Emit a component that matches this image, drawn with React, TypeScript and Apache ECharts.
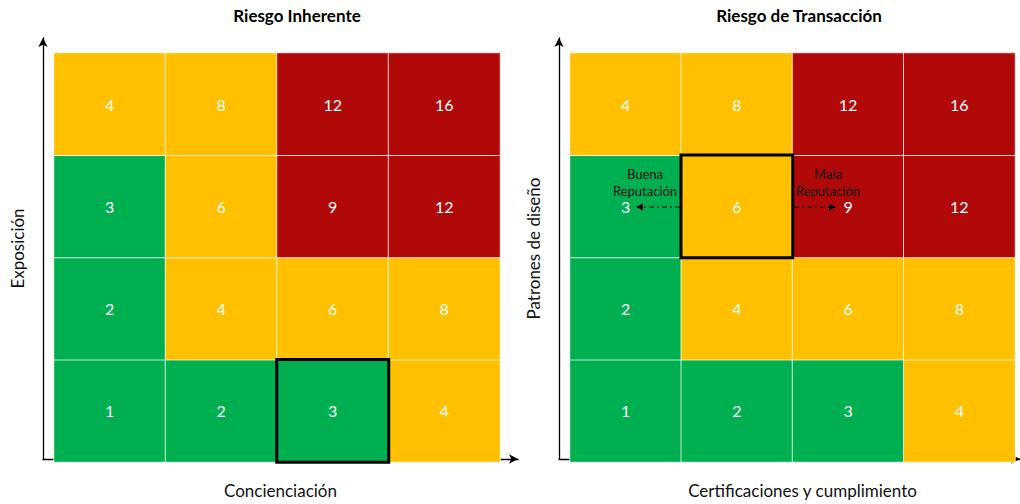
import React, { useEffect, useRef } from "react";
import * as echarts from "echarts";

// Category labels of the two 4x4 matrices (columns left→right, rows bottom→top)
const columnas = ["1", "2", "3", "4"];
const filas = ["1", "2", "3", "4"];

// Risk scores, one array per row from bottom to top
const inherenteValores = [
  [1, 2, 3, 4],
  [2, 4, 6, 8],
  [3, 6, 9, 12],
  [4, 8, 12, 16],
];
const transaccionValores = [
  [1, 2, 3, 4],
  [2, 4, 6, 8],
  [3, 6, 9, 12],
  [4, 8, 12, 16],
];

// Highlighted cell [column index, row index]
const inherenteMarcado = [2, 0];
const transaccionMarcado = [1, 2];

const titulos = ["Riesgo Inherente", "Riesgo de Transacción"];
const ejeX = ["Concienciación", "Certificaciones y cumplimiento"];
const ejeY = ["Exposición", "Patrones de diseño"];

const VERDE = "#00B050";
const AMARILLO = "#FFC000";
const ROJO = "#B10909";
const FUENTE = "Lato, 'Open Sans', sans-serif";

function celdas(valores: number[][], marcado: number[]) {
  const out: any[] = [];
  let destacada: any = null;
  valores.forEach((fila, r) => {
    fila.forEach((v, c) => {
      if (c === marcado[0] && r === marcado[1]) {
        destacada = {
          value: [c, r, v],
          itemStyle: { borderColor: "#000", borderWidth: 3 },
        };
      } else {
        out.push({ value: [c, r, v] });
      }
    });
  });
  if (destacada) out.push(destacada);
  return out;
}

function flecha(x1: number, x2: number, y: number) {
  const dir = x2 > x1 ? 1 : -1;
  return [
    {
      type: "line",
      shape: { x1, y1: y, x2: x2 - dir * 5, y2: y },
      style: { stroke: "#000", lineWidth: 1.2, lineDash: [5, 3, 2, 3] },
      z: 100,
    },
    {
      type: "polygon",
      shape: {
        points: [
          [x2, y],
          [x2 - dir * 7, y - 3.5],
          [x2 - dir * 7, y + 3.5],
        ],
      },
      style: { fill: "#000" },
      z: 100,
    },
  ];
}

function anotacion(texto: string, x: number, y: number) {
  return {
    type: "text",
    x,
    y,
    style: {
      text: texto,
      fill: "#111",
      font: `13px ${FUENTE}`,
      align: "center",
      verticalAlign: "middle",
      lineHeight: 17,
    },
    z: 100,
  };
}

export default function App() {
  const ref = useRef<HTMLDivElement>(null);

  useEffect(() => {
    if (!ref.current) return;
    const chart = echarts.init(ref.current, null, { renderer: "svg" });

    const heatGrids = [
      { left: 54, top: 53, width: 446, height: 409 },
      { left: 570, top: 53, width: 445, height: 409 },
    ];
    // Frame axes with arrow heads; the right one runs past the page edge
    const axisGrids = [
      { left: 43, top: 38, width: 475, height: 431 },
      { left: 559, top: 38, width: 490, height: 431 },
    ];
    const nombrePadding = [
      [0, 0, 0, 0],
      [0, 0, 0, 26],
    ];

    const xAxis: any[] = [];
    const yAxis: any[] = [];
    heatGrids.forEach((_, i) => {
      xAxis.push({
        type: "category",
        gridIndex: i,
        data: columnas,
        show: false,
      });
      yAxis.push({
        type: "category",
        gridIndex: i,
        data: filas,
        show: false,
      });
    });
    axisGrids.forEach((_, i) => {
      const linea = {
        show: true,
        symbol: ["none", "arrow"],
        symbolSize: [7, 9],
        lineStyle: { color: "#000", width: 1.3 },
      };
      xAxis.push({
        type: "value",
        gridIndex: i + 2,
        min: 0,
        max: 1,
        axisLine: linea,
        axisTick: { show: false },
        axisLabel: { show: false },
        splitLine: { show: false },
        name: ejeX[i],
        nameLocation: "middle",
        nameGap: 23,
        nameTextStyle: {
          fontFamily: FUENTE,
          fontSize: 17,
          color: "#111",
          padding: nombrePadding[i],
        },
      });
      yAxis.push({
        type: "value",
        gridIndex: i + 2,
        min: 0,
        max: 1,
        axisLine: linea,
        axisTick: { show: false },
        axisLabel: { show: false },
        splitLine: { show: false },
        name: ejeY[i],
        nameLocation: "middle",
        nameGap: 17,
        nameTextStyle: { fontFamily: FUENTE, fontSize: 17, color: "#111" },
      });
    });

    const serie = (i: number, data: any[]) => ({
      type: "heatmap",
      xAxisIndex: i,
      yAxisIndex: i,
      data,
      itemStyle: { borderColor: "rgba(255,255,255,0.75)", borderWidth: 1 },
      label: {
        show: true,
        color: "#fff",
        fontSize: 16,
        fontFamily: FUENTE,
        formatter: (p: any) => String(p.value[2]),
      },
      emphasis: { disabled: true },
    });

    chart.setOption({
      animation: false,
      title: [
        {
          text: titulos[0],
          left: 292,
          top: 2,
          textAlign: "center",
          textStyle: { fontFamily: FUENTE, fontSize: 17, fontWeight: "bold", color: "#000" },
        },
        {
          text: titulos[1],
          left: 794,
          top: 2,
          textAlign: "center",
          textStyle: { fontFamily: FUENTE, fontSize: 17, fontWeight: "bold", color: "#000" },
        },
      ],
      grid: [...heatGrids, ...axisGrids],
      xAxis,
      yAxis,
      visualMap: {
        type: "piecewise",
        show: false,
        dimension: 2,
        seriesIndex: [0, 1],
        pieces: [
          { lte: 3, color: VERDE },
          { gt: 3, lte: 8, color: AMARILLO },
          { gt: 8, color: ROJO },
        ],
      },
      series: [
        serie(0, celdas(inherenteValores, inherenteMarcado)),
        serie(1, celdas(transaccionValores, transaccionMarcado)),
      ],
      graphic: [
        anotacion("Buena\nReputación", 645, 182),
        anotacion("Mala\nReputación", 828, 182),
        ...flecha(680, 636, 207),
        ...flecha(794, 836, 207),
      ],
    });

    return () => chart.dispose();
  }, []);

  return (
    <div
      ref={ref}
      style={{ position: "fixed", left: 0, top: 0, width: 1020, height: 504, background: "#fff" }}
    />
  );
}
